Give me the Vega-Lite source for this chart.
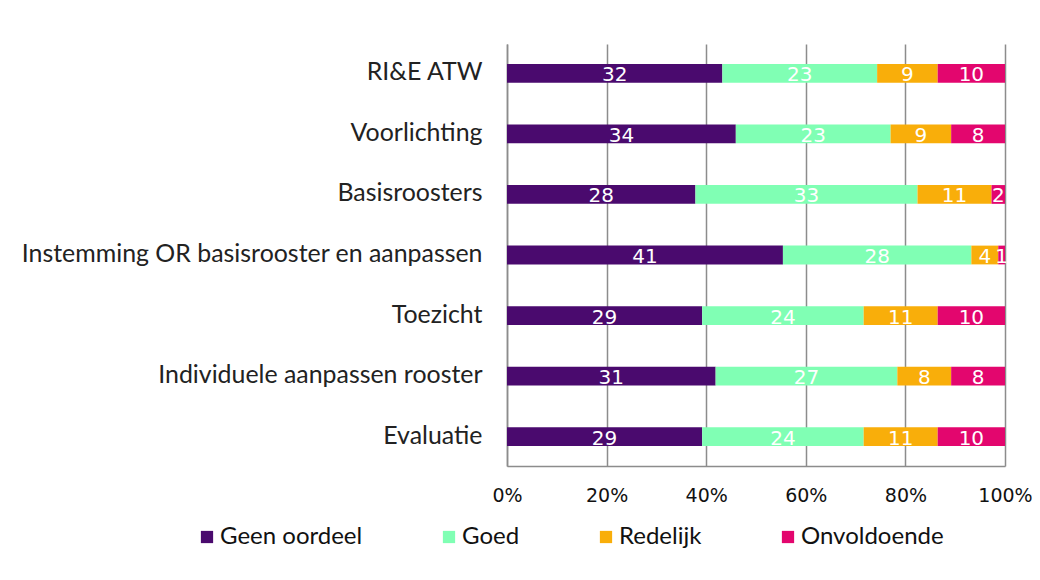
{
  "$schema": "https://vega.github.io/schema/vega-lite/v6.json",
  "autosize": {"type": "none"},
  "padding": {"left": 507, "top": 44, "right": 35, "bottom": 114},
  "width": 498,
  "height": 422,
  "background": "white",
  "data": {
    "values": [
      {"cat": "RI&E ATW", "oordeel": "Geen oordeel", "k": 1, "n": 32},
      {"cat": "RI&E ATW", "oordeel": "Goed", "k": 2, "n": 23},
      {"cat": "RI&E ATW", "oordeel": "Redelijk", "k": 3, "n": 9},
      {"cat": "RI&E ATW", "oordeel": "Onvoldoende", "k": 4, "n": 10},
      {"cat": "Voorlichting", "oordeel": "Geen oordeel", "k": 1, "n": 34},
      {"cat": "Voorlichting", "oordeel": "Goed", "k": 2, "n": 23},
      {"cat": "Voorlichting", "oordeel": "Redelijk", "k": 3, "n": 9},
      {"cat": "Voorlichting", "oordeel": "Onvoldoende", "k": 4, "n": 8},
      {"cat": "Basisroosters", "oordeel": "Geen oordeel", "k": 1, "n": 28},
      {"cat": "Basisroosters", "oordeel": "Goed", "k": 2, "n": 33},
      {"cat": "Basisroosters", "oordeel": "Redelijk", "k": 3, "n": 11},
      {"cat": "Basisroosters", "oordeel": "Onvoldoende", "k": 4, "n": 2},
      {"cat": "Instemming OR basisrooster en aanpassen", "oordeel": "Geen oordeel", "k": 1, "n": 41},
      {"cat": "Instemming OR basisrooster en aanpassen", "oordeel": "Goed", "k": 2, "n": 28},
      {"cat": "Instemming OR basisrooster en aanpassen", "oordeel": "Redelijk", "k": 3, "n": 4},
      {"cat": "Instemming OR basisrooster en aanpassen", "oordeel": "Onvoldoende", "k": 4, "n": 1},
      {"cat": "Toezicht", "oordeel": "Geen oordeel", "k": 1, "n": 29},
      {"cat": "Toezicht", "oordeel": "Goed", "k": 2, "n": 24},
      {"cat": "Toezicht", "oordeel": "Redelijk", "k": 3, "n": 11},
      {"cat": "Toezicht", "oordeel": "Onvoldoende", "k": 4, "n": 10},
      {"cat": "Individuele aanpassen rooster", "oordeel": "Geen oordeel", "k": 1, "n": 31},
      {"cat": "Individuele aanpassen rooster", "oordeel": "Goed", "k": 2, "n": 27},
      {"cat": "Individuele aanpassen rooster", "oordeel": "Redelijk", "k": 3, "n": 8},
      {"cat": "Individuele aanpassen rooster", "oordeel": "Onvoldoende", "k": 4, "n": 8},
      {"cat": "Evaluatie", "oordeel": "Geen oordeel", "k": 1, "n": 29},
      {"cat": "Evaluatie", "oordeel": "Goed", "k": 2, "n": 24},
      {"cat": "Evaluatie", "oordeel": "Redelijk", "k": 3, "n": 11},
      {"cat": "Evaluatie", "oordeel": "Onvoldoende", "k": 4, "n": 10}
    ]
  },
  "transform": [
    {"stack": "n", "groupby": ["cat"], "sort": [{"field": "k", "order": "ascending"}], "offset": "normalize", "as": ["x0", "x1"]},
    {"calculate": "(datum.x0 + datum.x1) / 2", "as": "xmid"}
  ],
  "encoding": {
    "y": {
      "field": "cat",
      "type": "nominal",
      "sort": ["RI&E ATW", "Voorlichting", "Basisroosters", "Instemming OR basisrooster en aanpassen", "Toezicht", "Individuele aanpassen rooster", "Evaluatie"],
      "scale": {"paddingInner": 0.69, "paddingOuter": 0.33},
      "axis": {
        "title": null,
        "domain": true,
        "domainColor": "#8c8c8c",
        "domainWidth": 1.5,
        "ticks": false,
        "grid": false,
        "labelFont": "Lato",
        "labelFontSize": 24.9,
        "labelColor": "#222222",
        "labelPadding": 25,
        "labelLimit": 600
      }
    }
  },
  "layer": [
    {
      "mark": {"type": "bar"},
      "encoding": {
        "x": {
          "field": "x0",
          "type": "quantitative",
          "scale": {"domain": [0, 1], "nice": false},
          "axis": {
            "title": null,
            "format": ".0%",
            "values": [0, 0.2, 0.4, 0.6, 0.8, 1],
            "grid": true,
            "gridColor": "#8c8c8c",
            "gridWidth": 1.5,
            "domain": true,
            "domainColor": "#8c8c8c",
            "domainWidth": 1.5,
            "ticks": false,
            "labelFont": "DejaVu Sans",
            "labelFontSize": 19,
            "labelColor": "#111111",
            "labelPadding": 20,
            "labelFlush": false
          }
        },
        "x2": {"field": "x1"},
        "color": {
          "field": "oordeel",
          "type": "nominal",
          "scale": {
            "domain": ["Geen oordeel", "Goed", "Redelijk", "Onvoldoende"],
            "range": ["#4a0a6e", "#80ffb4", "#f9ae0a", "#e3066e"]
          },
          "legend": {
            "title": null,
            "orient": "none",
            "legendX": -312,
            "legendY": 481,
            "direction": "horizontal",
            "columns": 4,
            "symbolType": "square",
            "symbolSize": 150,
            "symbolStrokeWidth": 0,
            "labelFont": "Lato",
            "labelFontSize": 24,
            "labelColor": "#111111",
            "labelOffset": 1,
            "columnPadding": 74,
            "labelLimit": 300
          }
        }
      }
    },
    {
      "mark": {"type": "text", "color": "white", "font": "DejaVu Sans", "fontSize": 20, "baseline": "middle", "align": "center", "dy": 2},
      "encoding": {
        "x": {"field": "xmid", "type": "quantitative"},
        "text": {"field": "n", "type": "quantitative"}
      }
    }
  ],
  "config": {"view": {"stroke": null}}
}
